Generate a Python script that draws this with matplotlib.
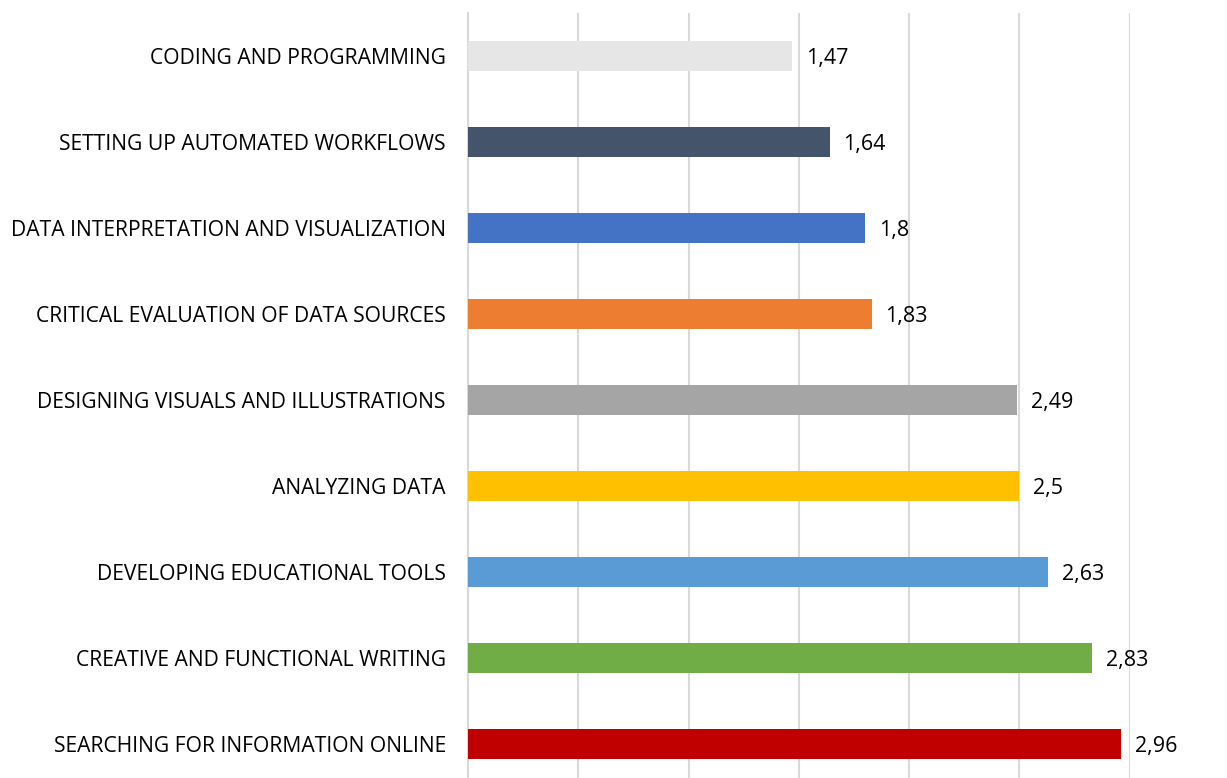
import matplotlib
matplotlib.use("Agg")
from matplotlib import pyplot as plt

categories = [
    "CODING AND PROGRAMMING",
    "SETTING UP AUTOMATED WORKFLOWS",
    "DATA INTERPRETATION AND VISUALIZATION",
    "CRITICAL EVALUATION OF DATA SOURCES",
    "DESIGNING VISUALS AND ILLUSTRATIONS",
    "ANALYZING DATA",
    "DEVELOPING EDUCATIONAL TOOLS",
    "CREATIVE AND FUNCTIONAL WRITING",
    "SEARCHING FOR INFORMATION ONLINE",
]
values = [1.47, 1.64, 1.8, 1.83, 2.49, 2.5, 2.63, 2.83, 2.96]
value_labels = ["1,47", "1,64", "1,8", "1,83", "2,49", "2,5", "2,63", "2,83", "2,96"]
colors = ["#E7E6E6", "#44546A", "#4472C4", "#ED7D31", "#A5A5A5",
          "#FFC000", "#5B9BD5", "#70AD47", "#C00000"]

plt.rcParams["font.family"] = ["Open Sans", "DejaVu Sans"]

W, H = 1227, 778
fig = plt.figure(figsize=(W / 100, H / 100), dpi=100)
ax = fig.add_axes([468 / W, 0, (1129.5 - 468) / W, (778 - 13) / H])

y = list(range(len(categories)))
ax.barh(y, values, height=0.35, color=colors, zorder=3)
for yi, v, lab in zip(y, values, value_labels):
    ax.annotate(lab, (v, yi), xytext=(10, -1.5), textcoords="offset points",
                va="center", ha="left", fontsize=15.5, color="#000000")

ax.set_xlim(0, 3)
ax.set_ylim(8 + 34 / 86, -0.5)
ax.set_xticks([0, 0.5, 1, 1.5, 2, 2.5, 3])
ax.set_xticklabels([])
ax.tick_params(axis="x", length=0)
ax.grid(axis="x", color="#D9D9D9", linewidth=1.5, zorder=0)
ax.set_yticks(y)
ax.set_yticklabels(categories, fontsize=15.2)
ax.tick_params(axis="y", length=0, pad=16)
for side in ["top", "right", "bottom"]:
    ax.spines[side].set_visible(False)
ax.spines["left"].set_color("#D9D9D9")
ax.spines["left"].set_linewidth(1.5)

fig.savefig("out.png", dpi=100)
